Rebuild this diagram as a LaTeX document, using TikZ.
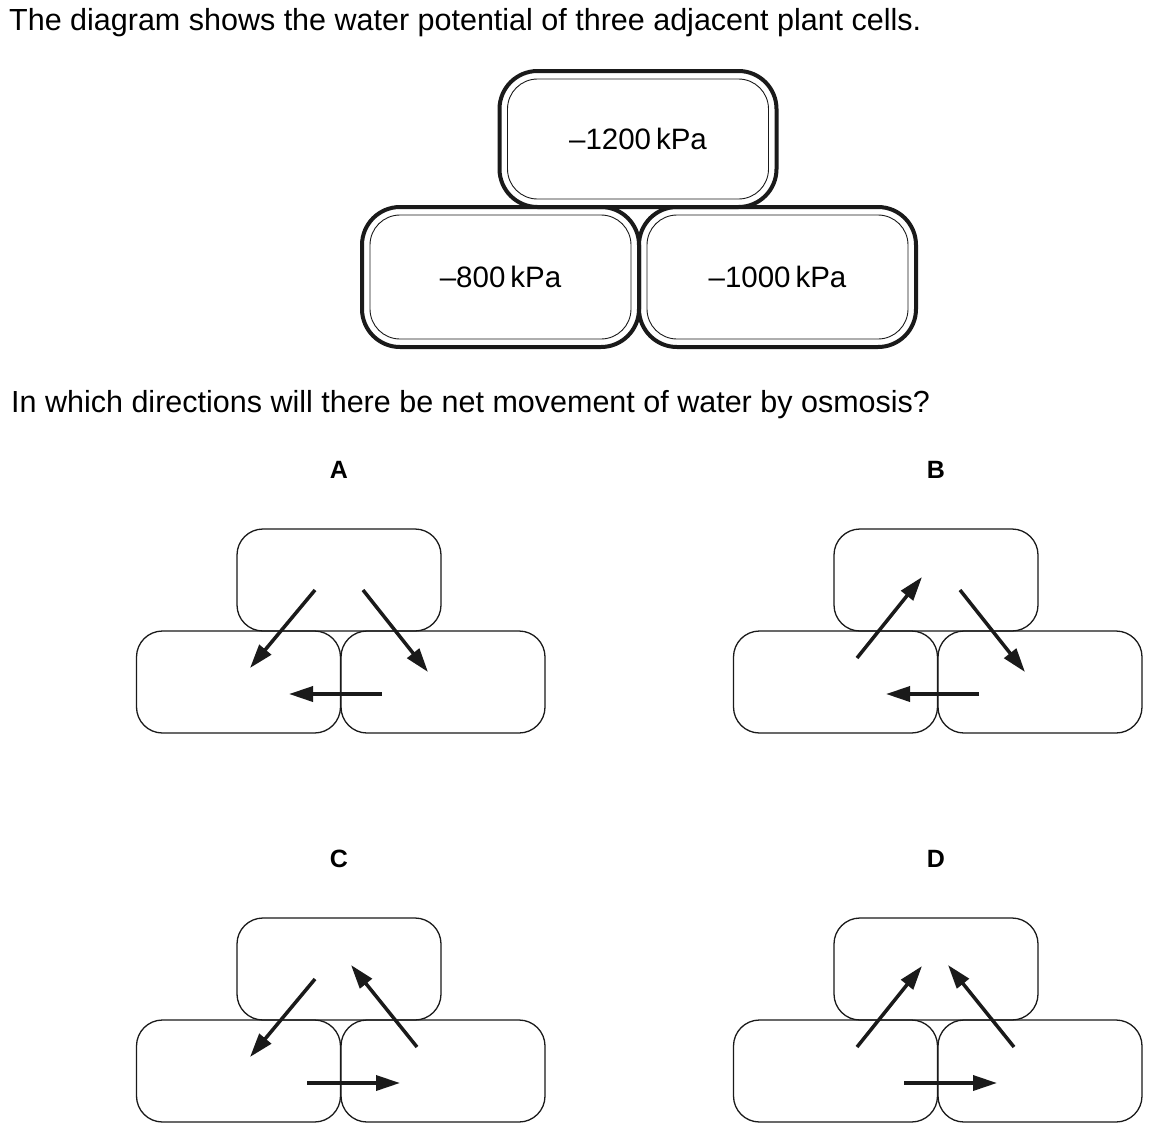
\documentclass[tikz,border=0pt]{standalone}
\usepackage{fontspec}
\setmainfont{Liberation Sans}
\usetikzlibrary{arrows.meta}
\definecolor{ink}{HTML}{1A1A1A}
\tikzset{
 bigcell/.style={draw=ink, line width=4pt, rounded corners=38pt, minimum width=277pt, inner sep=0pt, font=\fontsize{29.5}{34}\selectfont},
 innerline/.style={draw=ink, line width=0.9pt, rounded corners=30pt},
 smallcell/.style={draw=ink, line width=1.3pt, rounded corners=26pt, minimum width=204pt, minimum height=102pt, inner sep=0pt},
 flow/.style={draw=ink, line width=3.5pt, -{Triangle[length=24pt,width=15pt]}},
 txt/.style={anchor=base west, inner sep=0pt, font=\fontsize{30.5}{36}\selectfont},
 optlabel/.style={inner sep=0pt, font=\bfseries\fontsize{25}{30}\selectfont}
}
\begin{document}
\begin{tikzpicture}[x=1pt,y=-1pt]
\useasboundingbox[fill=white] (0,0) rectangle (1161,1136);
% heading
\node[txt] (title) at (9,30) {The diagram shows the water potential of three adjacent plant cells.};
% main cells
\node[bigcell, minimum height=136pt] (top) at (638,139) {--1200\,kPa};
\node[bigcell, minimum height=140pt] (left) at (500.5,277) {--800\,kPa};
\node[bigcell, minimum height=140pt] (right) at (777.5,277) {--1000\,kPa};
\foreach \c in {top,left,right}{
  \draw[innerline] ([shift={(10,10)}]\c.north west) rectangle ([shift={(-10,-10)}]\c.south east);
}
\node[txt] (question) at (11,412) {In which directions will there be net movement of water by osmosis?};
% option A
\begin{scope}
 \node[optlabel] (labA) at (339,470) {A};
 \node[smallcell] (At) at (339,580) {};
 \node[smallcell] (Al) at (238.5,682) {};
 \node[smallcell] (Ar) at (443,682) {};
 \coordinate (A1s) at (315,590); \coordinate (A1e) at (250,668);
 \coordinate (A2s) at (363,590); \coordinate (A2e) at (428,672);
 \coordinate (A3s) at (382,694); \coordinate (A3e) at (289,694);
 \draw[flow] (A1s) -- (A1e);
 \draw[flow] (A2s) -- (A2e);
 \draw[flow] (A3s) -- (A3e);
\end{scope}
% option B
\begin{scope}[shift={(597,0)}]
 \node[optlabel] (labB) at (339,470) {B};
 \node[smallcell] (Bt) at (339,580) {};
 \node[smallcell] (Bl) at (238.5,682) {};
 \node[smallcell] (Br) at (443,682) {};
 \coordinate (B1s) at (260,658); \coordinate (B1e) at (325,577);
 \coordinate (B2s) at (363,590); \coordinate (B2e) at (428,672);
 \coordinate (B3s) at (382,694); \coordinate (B3e) at (289,694);
 \draw[flow] (B1s) -- (B1e);
 \draw[flow] (B2s) -- (B2e);
 \draw[flow] (B3s) -- (B3e);
\end{scope}
% option C
\begin{scope}[shift={(0,389)}]
 \node[optlabel] (labC) at (339,470) {C};
 \node[smallcell] (Ct) at (339,580) {};
 \node[smallcell] (Cl) at (238.5,682) {};
 \node[smallcell] (Cr) at (443,682) {};
 \coordinate (C1s) at (315,590); \coordinate (C1e) at (250,668);
 \coordinate (C2s) at (417,658); \coordinate (C2e) at (351,576);
 \coordinate (C3s) at (307,694); \coordinate (C3e) at (400,694);
 \draw[flow] (C1s) -- (C1e);
 \draw[flow] (C2s) -- (C2e);
 \draw[flow] (C3s) -- (C3e);
\end{scope}
% option D
\begin{scope}[shift={(597,389)}]
 \node[optlabel] (labD) at (339,470) {D};
 \node[smallcell] (Dt) at (339,580) {};
 \node[smallcell] (Dl) at (238.5,682) {};
 \node[smallcell] (Dr) at (443,682) {};
 \coordinate (D1s) at (260,658); \coordinate (D1e) at (325,577);
 \coordinate (D2s) at (417,658); \coordinate (D2e) at (351,576);
 \coordinate (D3s) at (307,694); \coordinate (D3e) at (400,694);
 \draw[flow] (D1s) -- (D1e);
 \draw[flow] (D2s) -- (D2e);
 \draw[flow] (D3s) -- (D3e);
\end{scope}
\end{tikzpicture}
\end{document}
